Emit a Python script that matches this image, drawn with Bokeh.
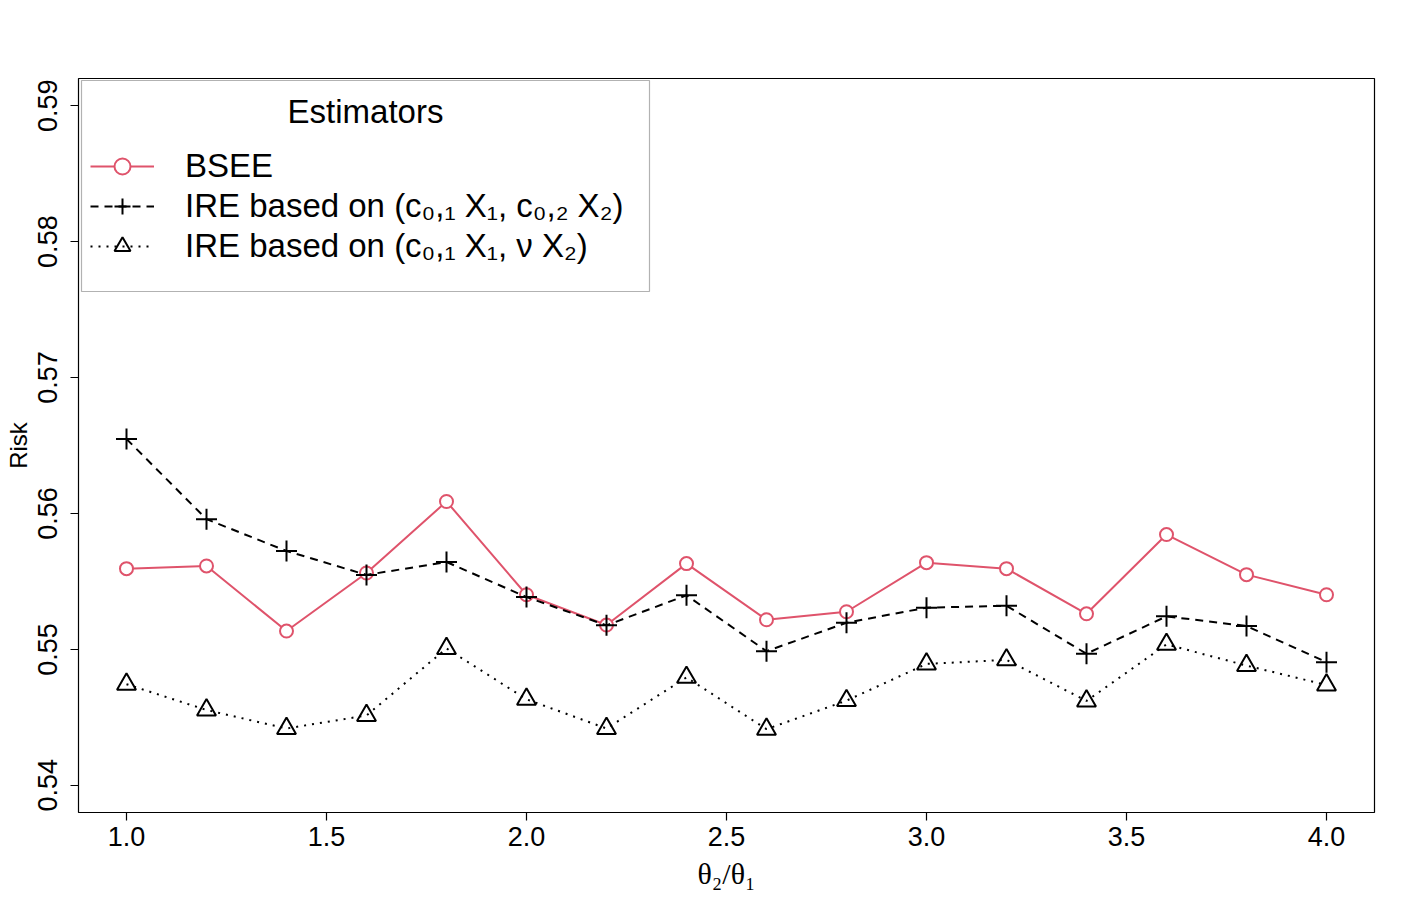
from bokeh.plotting import figure
from bokeh.models import (FixedTicker, PrintfTickFormatter, Legend, LegendItem,
                          Label, ColumnDataSource, Range1d, BoxAnnotation)
from bokeh.embed import file_html
from bokeh.resources import INLINE

# ---- data ----
ratio = [1.0, 1.2, 1.4, 1.6, 1.8, 2.0, 2.2, 2.4, 2.6, 2.8, 3.0, 3.2, 3.4, 3.6, 3.8, 4.0]
bsee = [0.55594, 0.55614, 0.55135, 0.55562, 0.56088, 0.55402, 0.55179, 0.55631,
        0.55218, 0.55277, 0.55638, 0.55594, 0.55262, 0.55845, 0.55550, 0.55402]
ire_c02 = [0.56548, 0.55958, 0.55724, 0.55548, 0.55643, 0.55385, 0.55177, 0.55398,
           0.54987, 0.55196, 0.55307, 0.55321, 0.54968, 0.55243, 0.55172, 0.54906]
ire_nu = [0.54744, 0.54554, 0.54418, 0.54514, 0.55007, 0.54633, 0.54418, 0.54794,
          0.54413, 0.54623, 0.54893, 0.54923, 0.54621, 0.55037, 0.54881, 0.54738]
series_labels = ["BSEE",
                 "IRE based on (c\u2080,\u2081 X\u2081, c\u2080,\u2082 X\u2082)",
                 "IRE based on (c\u2080,\u2081 X\u2081, \u03bd X\u2082)"]
legend_title = "Estimators"
x_ticks = [1.0, 1.5, 2.0, 2.5, 3.0, 3.5, 4.0]
y_ticks = [0.54, 0.55, 0.56, 0.57, 0.58, 0.59]
x_label = "\u03b8\u2082/\u03b8\u2081"
y_label = "Risk"

src = ColumnDataSource(dict(x=ratio, bsee=bsee, ire1=ire_c02, ire2=ire_nu))

FONT = "Liberation Sans"
FW, FH = 1296, 734

p = figure(frame_width=FW, frame_height=FH, output_backend="svg", toolbar_location=None,
           x_range=Range1d(0.88, 4.12), y_range=Range1d(0.538, 0.592),
           min_border_left=78, min_border_top=78, min_border_right=33, min_border_bottom=88,
           background_fill_color="white", border_fill_color="white")

p.xgrid.visible = False
p.ygrid.visible = False
p.outline_line_color = "black"
p.outline_line_alpha = 1.0
p.outline_line_width = 1.2

for ax in (p.xaxis[0], p.yaxis[0]):
    ax.axis_line_color = None
    ax.major_tick_in = 0
    ax.major_tick_out = 8
    ax.major_tick_line_width = 1.2
    ax.major_tick_line_color = "black"
    ax.minor_tick_line_color = None
    ax.major_label_text_font = FONT
    ax.major_label_text_font_size = "27px"
    ax.major_label_text_color = "black"
    ax.axis_label_text_font_style = "normal"
    ax.axis_label_text_color = "black"

p.xaxis.ticker = FixedTicker(ticks=x_ticks)
p.yaxis.ticker = FixedTicker(ticks=y_ticks)
p.xaxis.formatter = PrintfTickFormatter(format="%.1f")
p.yaxis.formatter = PrintfTickFormatter(format="%.2f")
p.yaxis.major_label_orientation = "vertical"
p.xaxis.major_label_standoff = 6
p.yaxis.major_label_standoff = 13

p.xaxis.axis_label = x_label
p.xaxis.axis_label_text_font = "Liberation Serif"
p.xaxis.axis_label_text_font_size = "30px"
p.xaxis.axis_label_standoff = 8
p.yaxis.axis_label = y_label
p.yaxis.axis_label_text_font = FONT
p.yaxis.axis_label_text_font_size = "24px"
p.yaxis.axis_label_standoff = 4

RED = "#DF536B"

l1 = p.line("x", "bsee", source=src, line_color=RED, line_width=2)
m1 = p.scatter("x", "bsee", source=src, marker="circle", size=13, fill_color="white",
               line_color=RED, line_width=2)
l2 = p.line("x", "ire1", source=src, line_color="black", line_width=2, line_dash="8 6")
m2 = p.scatter("x", "ire1", source=src, marker="cross", size=21, line_color="black",
               line_width=2)
l3 = p.line("x", "ire2", source=src, line_color="black", line_width=2, line_dash="2 6")
m3 = p.scatter("x", "ire2", source=src, marker="triangle", size=19, fill_color="white",
               fill_alpha=0, line_color="black", line_width=2)

# legend frame (screen units, relative to the plot frame)
p.add_layout(BoxAnnotation(left=3, right=571, top=FH - 2, bottom=FH - 213,
                           left_units="screen", right_units="screen",
                           top_units="screen", bottom_units="screen",
                           fill_color="white", fill_alpha=1.0,
                           line_color="black", line_width=1.2, level="annotation"))

legend = Legend(items=[LegendItem(label=series_labels[0], renderers=[l1, m1]),
                       LegendItem(label=series_labels[1], renderers=[l2, m2]),
                       LegendItem(label=series_labels[2], renderers=[l3, m3])],
                location="top_left", margin=12, padding=0, spacing=0,
                glyph_width=64, glyph_height=40, label_height=40, label_width=453,
                label_standoff=31, label_text_font=FONT, label_text_font_size="33px",
                label_text_color="black",
                border_line_color=None, background_fill_alpha=0.0,
                title=" ", title_text_font=FONT, title_text_font_size="33px",
                title_standoff=18)
p.add_layout(legend)

p.add_layout(Label(x=287, y=FH - 33, x_units="screen", y_units="screen", text=legend_title,
                   text_font=FONT, text_font_size="33px", text_align="center",
                   text_baseline="middle", text_color="black", level="overlay"))

open("out.html", "w").write(file_html(p, INLINE))
